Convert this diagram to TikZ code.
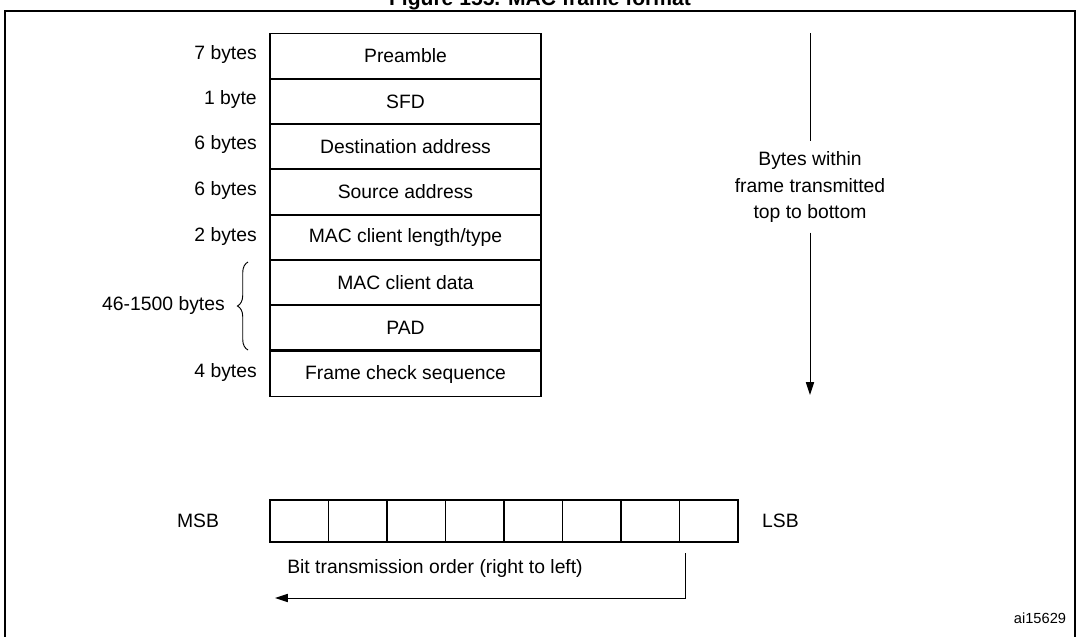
\documentclass[tikz,border=0pt]{standalone}
\usepackage{fontspec}
\setmainfont{Liberation Sans}
\usetikzlibrary{arrows.meta, decorations.pathreplacing}

\begin{document}
\begin{tikzpicture}[x=0.03cm, y=-0.03cm,
    every node/.style = {font=\fontsize{16.5}{20}\selectfont, inner sep=0pt},
    field/.style = {draw, line width=1.4pt, minimum width=271*0.03cm, minimum height=45*0.03cm},
    bit/.style = {draw, line width=1.4pt, minimum width=58.5*0.03cm, minimum height=42*0.03cm},
    size/.style = {anchor=east}]
    \useasboundingbox (0,0) rectangle (1079,636);
    % title, cut at the top
    \node (title) [font=\bfseries\fontsize{18}{20}\selectfont] at (540,0) {Figure 155. MAC frame format};
    \draw [line width=1.2pt] (5,640) |- (1075,11) -- (1075,640);
    % frame fields
    \node (f1) [field] at (405.5,56) {Preamble};
    \node (f2) [field] at (405.5,101.5) {SFD};
    \node (f3) [field] at (405.5,146.5) {Destination address};
    \node (f4) [field] at (405.5,192) {Source address};
    \node (f5) [field] at (405.5,237.5) {MAC client length/type};
    \node (f6) [field] at (405.5,282.5) {MAC client data};
    \node (f7) [field] at (405.5,327.5) {PAD};
    \node (f8) [field] at (405.5,374) {Frame check sequence};
    \node (s1) [size] at (257,54) {7 bytes};
    \node (s2) [size] at (257,99) {1 byte};
    \node (s3) [size] at (257,144) {6 bytes};
    \node (s4) [size] at (257,190) {6 bytes};
    \node (s5) [size] at (257,236) {2 bytes};
    \node (s8) [size] at (257,372) {4 bytes};
    \draw [decorate, decoration={brace, amplitude=9pt}, line width=0.8pt]
        (248,350) -- (248,262);
    \node (s67) [size] at (225,305) {46-1500 bytes};
    % byte order
    \coordinate (top) at (810,33);
    \coordinate (bot) at (810,395);
    \node (order) [align=center, font=\fontsize{16.5}{23}\selectfont] at (810,187)
        {Bytes within\\frame transmitted\\top to bottom};
    \draw [line width=0.8pt] (top) -- ([yshift=8pt]order.north);
    \draw [line width=0.8pt, -{Triangle[length=11pt, width=7pt]}] ([yshift=-8pt]order.south) -- (bot);
    % bits
    \foreach \i in {1,...,8}
        \node (b\i) [bit] at (270+58.5*\i-29.25,521) {};
    \node (msb) at (198,521) {MSB};
    \node (lsb) [anchor=west] at (762,521) {LSB};
    \node (bitorder) at (435,568) {Bit transmission order (right to left)};
    \coordinate (c1) at (685,553);
    \coordinate (c2) at (275,598);
    \draw [line width=0.8pt, -{Triangle[length=11pt, width=7pt]}] (c1) |- (c2);
    \node (id) [font=\fontsize{12.5}{14}\selectfont] at (1040,618) {ai15629};
\end{tikzpicture}
\end{document}
